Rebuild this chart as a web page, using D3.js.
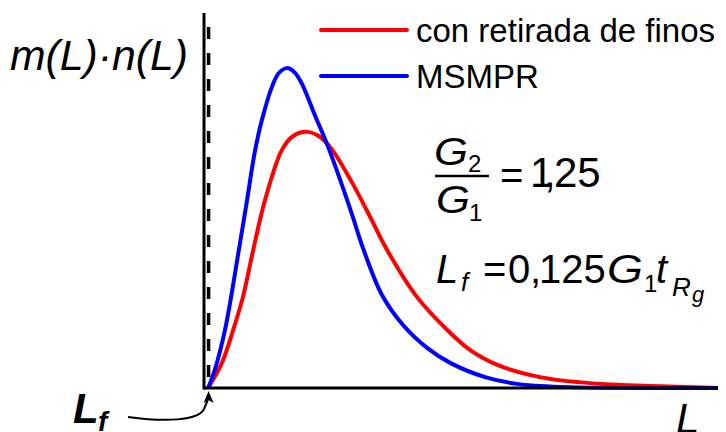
<!DOCTYPE html>
<html>
<head>
<meta charset="utf-8">
<script src="https://cdn.jsdelivr.net/npm/d3@7"></script>
<style>
  body { margin: 0; background: #fff; }
  svg { display: block; font-family: "Liberation Sans", Arial, sans-serif; }
</style>
</head>
<body>
<div id="chart"></div>
<script>
// curve data (L in arbitrary units 0-100, m(L)n(L) 0-100)
const seriesNames = ["con retirada de finos", "MSMPR"];
const seriesColors = ["#ff0000", "#0000ff"];

const redL = [0.6, 3.3, 5.5, 7.4, 9.4, 11.7, 15.0, 17.2, 19.9, 22.4, 24.8, 28.7, 32.2, 35.5, 41.3, 47.2, 51.7, 57.1, 65.3, 75.0, 93.2, 100];
const redN = [0, 6.7, 15.5, 24.3, 36.8, 50.1, 63.5, 67.2, 68.3, 67.0, 63.5, 54.7, 45.6, 36.8, 24.3, 15.5, 10.1, 6.1, 2.9, 1.3, 0.3, 0];

const blueL = [0.6, 1.9, 3.9, 6.6, 8.2, 9.7, 11.1, 13.1, 14.4, 16.0, 17.5, 18.9, 21.4, 24.0, 26.5, 28.7, 30.8, 34.5, 38.6, 43.3, 47.8, 54.6, 60.8, 69.2, 100];
const blueN = [0, 4.8, 15.5, 36.8, 50.1, 62.9, 71.5, 80.5, 84.0, 85.3, 84.1, 81.1, 72.8, 64.3, 54.9, 46.1, 37.3, 24.8, 16.8, 10.7, 6.7, 2.9, 1.1, 0.3, 0];

const Lf = 0.6;

const width = 726, height = 432;

const svg = d3.select("#chart")
  .append("svg")
  .attr("width", width)
  .attr("height", height)
  .attr("viewBox", [0, 0, width, height]);

const x = d3.scaleLinear().domain([0, 100]).range([205, 718]);
const y = d3.scaleLinear().domain([0, 100]).range([388, 13]);

// dashed line at L_f
svg.append("line")
  .attr("x1", x(Lf) + 0.5).attr("x2", x(Lf) + 0.5)
  .attr("y1", 27).attr("y2", y(0))
  .attr("stroke", "#000")
  .attr("stroke-width", 3.5)
  .attr("stroke-dasharray", "12,14");

// curves
const line = d3.line()
  .x(d => x(d[0]))
  .y(d => y(d[1]))
  .curve(d3.curveCatmullRom.alpha(0.5));

const series = [
  d3.zip(redL, redN),
  d3.zip(blueL, blueN)
];

svg.selectAll("path.curve")
  .data(series)
  .join("path")
  .attr("class", "curve")
  .attr("d", line)
  .attr("fill", "none")
  .attr("stroke", (d, i) => seriesColors[i])
  .attr("stroke-width", 4);

// axes (no ticks)
svg.append("g")
  .attr("transform", `translate(0, ${y(0)})`)
  .call(d3.axisBottom(x).tickValues([]).tickSizeOuter(0))
  .call(g => g.select(".domain").attr("stroke-width", 3).attr("d", `M${x(0) - 1.5},0H${x(100)}`));

svg.append("g")
  .attr("transform", `translate(${x(0) - 1}, 0)`)
  .call(d3.axisLeft(y).tickValues([]).tickSizeOuter(0))
  .call(g => g.select(".domain").attr("stroke-width", 3).attr("d", `M0,${y(100)}V${y(0) + 1.5}`));

// legend
const legend = svg.append("g");
seriesNames.forEach((name, i) => {
  const ly = 30 + i * 46;
  legend.append("line")
    .attr("x1", 321).attr("x2", 407)
    .attr("y1", ly).attr("y2", ly)
    .attr("stroke", seriesColors[i])
    .attr("stroke-width", 4)
    .attr("stroke-linecap", "round");
  legend.append("text")
    .attr("x", 416).attr("y", ly + 12)
    .attr("font-size", 33)
    .text(name);
});

// y label
svg.append("text")
  .attr("x", 10).attr("y", 70)
  .attr("font-size", 42)
  .attr("font-style", "italic")
  .attr("textLength", 178)
  .attr("lengthAdjust", "spacingAndGlyphs")
  .text("m(L)·n(L)");

// x label
svg.append("text")
  .attr("x", 676).attr("y", 433)
  .attr("font-size", 42)
  .attr("font-style", "italic")
  .text("L");

// fraction G2/G1 = 1,25
const eq = svg.append("g").attr("font-size", 38);
eq.append("text").attr("x", 434).attr("y", 165).attr("font-style", "italic")
  .attr("textLength", 34).attr("lengthAdjust", "spacingAndGlyphs").text("G");
eq.append("text").attr("x", 468).attr("y", 172).attr("font-size", 24).text("2");
eq.append("line").attr("x1", 435).attr("x2", 489).attr("y1", 176).attr("y2", 176)
  .attr("stroke", "#000").attr("stroke-width", 2.5);
eq.append("text").attr("x", 436).attr("y", 213).attr("font-style", "italic")
  .attr("textLength", 34).attr("lengthAdjust", "spacingAndGlyphs").text("G");
eq.append("text").attr("x", 469).attr("y", 221).attr("font-size", 24).text("1");
eq.append("text").attr("x", 500).attr("y", 189).attr("font-size", 40).text("=");
eq.append("text").attr("x", 530).attr("y", 187).attr("font-size", 42).text("1");
eq.append("text").attr("x", 544).attr("y", 187).attr("font-size", 42).text(",");
eq.append("text").attr("x", 554).attr("y", 187).attr("font-size", 42).text("25");

// L_f = 0,125 G1 tRg
const eq2 = svg.append("g").attr("font-size", 40);
eq2.append("text").attr("x", 436).attr("y", 283).attr("font-style", "italic").text("L");
eq2.append("text").attr("x", 461).attr("y", 291).attr("font-size", 26).attr("font-style", "italic").text("f");
eq2.append("text").attr("x", 483).attr("y", 283).text("=");
eq2.append("text").attr("x", 508).attr("y", 283).text("0");
eq2.append("text").attr("x", 530).attr("y", 283).text(",");
eq2.append("text").attr("x", 539).attr("y", 283).text("125");
eq2.append("text").attr("x", 607).attr("y", 283).attr("font-style", "italic")
  .attr("textLength", 36).attr("lengthAdjust", "spacingAndGlyphs").text("G");
eq2.append("text").attr("x", 644).attr("y", 292).attr("font-size", 24).text("1");
eq2.append("text").attr("x", 656).attr("y", 283).attr("font-style", "italic").text("t");
eq2.append("text").attr("x", 672).attr("y", 296).attr("font-size", 26).attr("font-style", "italic").text("R");
eq2.append("text").attr("x", 692).attr("y", 302).attr("font-size", 22).attr("font-style", "italic").text("g");

// L_f annotation with arrow
svg.append("text")
  .attr("x", 73).attr("y", 423)
  .attr("font-size", 42)
  .attr("font-style", "italic")
  .attr("font-weight", "bold")
  .text("L");
svg.append("text")
  .attr("x", 98).attr("y", 431)
  .attr("font-size", 28)
  .attr("font-style", "italic")
  .attr("font-weight", "bold")
  .text("f");

svg.append("path")
  .attr("d", `M128,417 C165,422 198,421 204,409 L${x(Lf) + 0.5},398`)
  .attr("fill", "none")
  .attr("stroke", "#000")
  .attr("stroke-width", 2);
svg.append("path")
  .attr("d", `M${x(Lf) + 0.5},391 L${x(Lf) - 4.5},403 L${x(Lf) + 0.5},400 L${x(Lf) + 5.5},403 Z`)
  .attr("fill", "#000");
</script>
</body>
</html>
